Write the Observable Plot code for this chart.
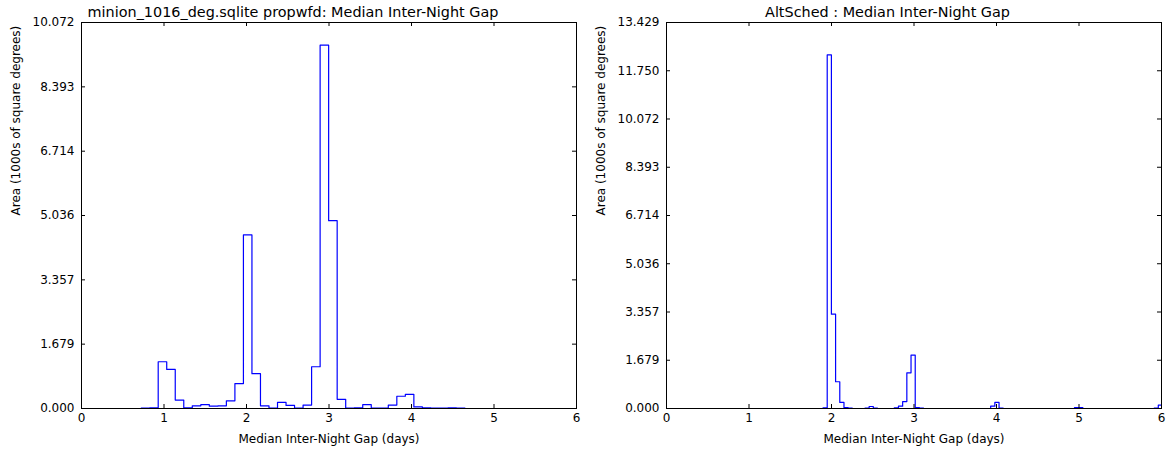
<!DOCTYPE html>
<html>
<head>
<meta charset="utf-8">
<script src="https://cdn.jsdelivr.net/npm/d3@7"></script>
<script src="https://cdn.jsdelivr.net/npm/@observablehq/plot@0.6"></script>
<style>
  body { margin: 0; background: #fff; }
  #charts { display: flex; width: 1171px; height: 449px; }
  #charts svg { display: block; }
</style>
</head>
<body>
<div id="charts"></div>
<script>
// Shared axis ticks and labels
const xTicks = [0, 1, 2, 3, 4, 5, 6];
const xLabel = "Median Inter-Night Gap (days)";
const yLabel = "Area (1000s of square degrees)";

// minion_1016 histogram: area (1000s deg²) per bin of median inter-night gap
const leftTitle = "minion_1016_deg.sqlite propwfd: Median Inter-Night Gap";
const leftYTicks = [0, 1.679, 3.357, 5.036, 6.714, 8.393, 10.072];
const leftBinStart = 0;
const leftBinWidth = 0.1033;
const leftArea = [
  0, 0, 0, 0, 0, 0, 0, 0.01, 0.02, 1.22,
  1.02, 0.22, 0.02, 0.07, 0.10, 0.06, 0.07, 0.20, 0.65, 4.53,
  0.91, 0.07, 0.01, 0.16, 0.08, 0.01, 0.09, 1.09, 9.48, 4.90,
  0.24, 0.01, 0.02, 0.10, 0.01, 0.01, 0.09, 0.32, 0.37, 0.04,
  0.02, 0.01, 0.01, 0.02, 0.01, 0, 0, 0, 0, 0,
  0, 0, 0, 0, 0, 0, 0, 0, 0
];

// AltSched histogram
const rightTitle = "AltSched : Median Inter-Night Gap";
const rightYTicks = [0, 1.679, 3.357, 5.036, 6.714, 8.393, 10.072, 11.750, 13.429];
const rightBinStart = 0.0176;
const rightBinWidth = 0.0508;
const rightArea = [
  0, 0, 0, 0, 0, 0, 0, 0, 0, 0,
  0, 0, 0, 0, 0, 0, 0, 0, 0, 0,
  0, 0, 0, 0, 0, 0, 0, 0, 0, 0,
  0, 0, 0, 0, 0, 0, 0, 0.02, 12.30, 3.28,
  0.93, 0.21, 0.03, 0.01, 0, 0, 0, 0.01, 0.07, 0.01,
  0, 0, 0, 0, 0.02, 0.08, 0.24, 1.24, 1.86, 0.03,
  0.01, 0, 0, 0, 0, 0, 0, 0, 0, 0,
  0, 0, 0, 0, 0, 0, 0, 0.08, 0.21, 0.01,
  0, 0, 0, 0, 0, 0, 0, 0, 0, 0,
  0, 0, 0, 0, 0, 0, 0, 0.03, 0.03, 0,
  0, 0, 0, 0, 0, 0, 0, 0, 0, 0,
  0, 0, 0, 0, 0, 0, 0.01, 0.12
];

const FRAME_W = 495, FRAME_H = 386, TICK = 4;

// Outline of a step histogram: rises from zero at the first edge, falls back at the last
function stepPoints(start, width, area) {
  const pts = [{x: start, y: 0}];
  area.forEach((v, i) => pts.push({x: start + i * width, y: v}));
  pts.push({x: start + area.length * width, y: 0});
  return pts;
}

function histChart({width, marginRight, title, titleX, yTicks, start, binWidth, area}) {
  return Plot.plot({
    width, height: 449,
    marginLeft: 81, marginRight, marginTop: 22, marginBottom: 41,
    style: {fontFamily: "'DejaVu Sans', sans-serif", fontSize: "12px", color: "black", background: "white"},
    x: {domain: [0, 6]},
    y: {domain: [0, yTicks[yTicks.length - 1]]},
    marks: [
      Plot.lineY(stepPoints(start, binWidth, area), {
        x: "x", y: "y", curve: "step-after", stroke: "#0000ff", strokeWidth: 1.2, clip: true
      }),
      Plot.frame({stroke: "black", strokeWidth: 1}),
      // inward ticks on all four sides
      Plot.tickX(xTicks, {x: d => d, insetTop: FRAME_H - TICK, stroke: "black"}),
      Plot.tickX(xTicks, {x: d => d, insetBottom: FRAME_H - TICK, stroke: "black"}),
      Plot.tickY(yTicks, {y: d => d, insetRight: FRAME_W - TICK, stroke: "black"}),
      Plot.tickY(yTicks, {y: d => d, insetLeft: FRAME_W - TICK, stroke: "black"}),
      Plot.axisX(xTicks, {tickSize: 0, tickPadding: 5, label: null, fontSize: 12}),
      Plot.axisY(yTicks, {tickSize: 0, tickPadding: 7, label: null, fontSize: 12, tickFormat: d => d.toFixed(3)}),
      Plot.text([title], {frameAnchor: "top-left", dx: titleX, dy: -5.5, lineAnchor: "bottom", textAnchor: "middle", fontSize: 14.4, fill: "black"}),
      Plot.text([xLabel], {frameAnchor: "bottom", dy: 34, lineAnchor: "bottom", fontSize: 12, fill: "black"}),
      Plot.text([yLabel], {frameAnchor: "left", dx: -65, rotate: -90, fontSize: 12, fill: "black"})
    ]
  });
}

const host = document.getElementById("charts");
host.append(histChart({
  width: 585, marginRight: 9, title: leftTitle, titleX: 211.5,
  yTicks: leftYTicks, start: leftBinStart, binWidth: leftBinWidth, area: leftArea
}));
host.append(histChart({
  width: 586, marginRight: 10, title: rightTitle, titleX: 221,
  yTicks: rightYTicks, start: rightBinStart, binWidth: rightBinWidth, area: rightArea
}));
</script>
</body>
</html>
